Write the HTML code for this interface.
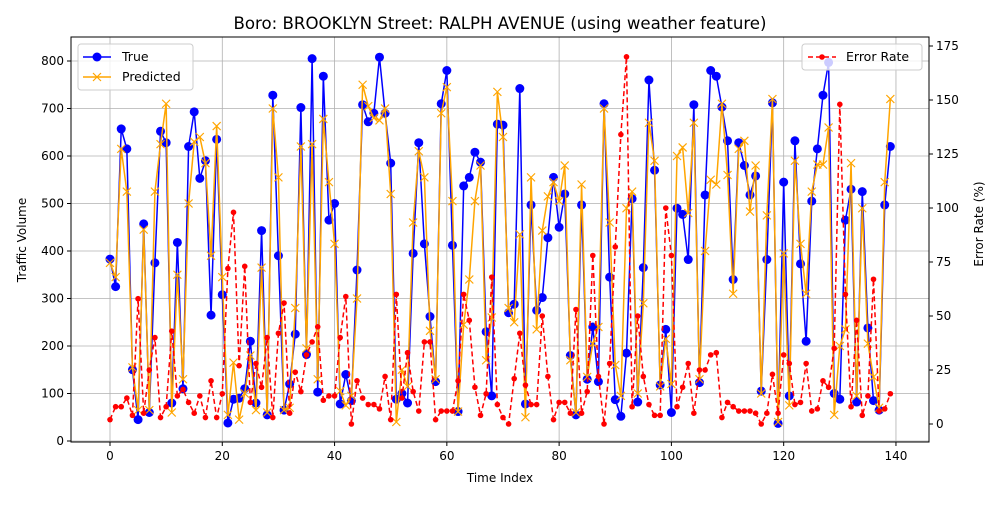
<!DOCTYPE html>
<html><head><meta charset="utf-8"><style>
body{margin:0;background:#fff;font-family:"Liberation Sans","DejaVu Sans",sans-serif}
svg text{font-family:"DejaVu Sans","Liberation Sans",sans-serif}
</style></head><body>
<svg id="chart" width="1000" height="500" xmlns="http://www.w3.org/2000/svg">
<text x="500" y="29" text-anchor="middle" font-size="16.6">Boro: BROOKLYN Street: RALPH AVENUE (using weather feature)</text>
<g id="grid"></g><g id="axes"></g><g id="marks"></g><g id="legend"></g>
</svg>
<script>
const idx = Array.from({length:140},(_,i)=>i);
const trueVals=[383,325,657,615,150,45,457,60,375,652,628,80,418,110,620,693,553,590,265,635,308,38,88,90,110,210,80,443,55,728,390,65,120,225,702,182,805,103,768,465,500,78,140,85,360,708,672,690,808,690,585,88,100,80,395,628,415,262,125,710,780,412,62,537,555,608,587,230,95,667,665,270,288,742,78,497,275,302,428,555,450,520,180,55,497,130,240,125,710,345,87,52,185,510,82,365,760,570,118,235,60,490,477,382,708,123,518,780,768,703,632,340,628,580,518,558,105,382,712,37,545,95,632,373,210,505,615,728,797,100,88,465,530,82,525,238,85,65,497,620];
const predVals=[375,345,615,525,155,65,445,65,525,625,710,60,350,130,500,630,640,585,390,663,345,55,165,45,100,180,65,365,60,700,555,65,70,280,620,195,625,130,678,545,415,105,75,95,300,750,705,680,675,700,520,40,150,115,460,610,555,232,130,690,745,505,62,245,340,505,580,170,260,735,640,280,250,435,50,555,235,443,515,545,505,580,170,60,540,135,205,240,700,460,160,95,490,525,100,290,670,590,115,215,120,600,618,480,670,130,400,550,540,710,560,310,615,632,483,580,100,475,720,40,395,75,590,415,310,525,582,582,660,55,200,235,585,95,490,205,135,70,545,720];
const errVals=[2,8,8,12,4,58,5,25,40,3,8,43,13,16,10,5,13,3,20,3,14,72,98,27,73,10,28,17,40,3,42,56,5,24,15,32,38,45,11,13,13,40,59,0,20,12,9,9,7,22,2,60,12,33,15,6,38,38,2,6,6,6,20,60,48,17,4,14,68,9,3,0,21,42,18,9,9,50,22,2,10,10,5,53,5,15,78,22,0,28,82,134,170,8,50,22,9,4,4,100,78,8,17,28,5,25,25,32,33,3,10,8,6,6,6,5,0,5,23,5,32,28,9,10,28,6,7,20,17,35,148,60,8,48,4,13,67,6,7,14];
const xTicks=[0,20,40,60,80,100,120,140];
const yTicks=[0,100,200,300,400,500,600,700,800];
const y2Ticks=[0,25,50,75,100,125,150,175];
const L=71,R=929,T=37,B=442;
const xs=v=>110+v*5.614;
const ys=v=>441-v*0.475;
const y2s=v=>424-v*2.16;
const NS='http://www.w3.org/2000/svg';
function mk(tag,attrs,parent){const e=document.createElementNS(NS,tag);for(const k in attrs)e.setAttribute(k,attrs[k]);parent.appendChild(e);return e;}
const grid=document.getElementById('grid'),axes=document.getElementById('axes'),marks=document.getElementById('marks'),leg=document.getElementById('legend');
xTicks.forEach(t=>{const x=xs(t);
 const g=mk('line',{x1:x,x2:x,y1:T,y2:B,stroke:'#b0b0b0','stroke-width':0.8},grid);
 
 
 mk('line',{x1:x,x2:x,y1:B,y2:B+4,stroke:'#000'},axes);
 const tx=mk('text',{x:x,y:B+18,'text-anchor':'middle','font-size':12},axes);tx.textContent=t;
 
 
});
yTicks.forEach(t=>{const y=ys(t);
 const g=mk('line',{x1:L,x2:R,y1:y,y2:y,stroke:'#b0b0b0','stroke-width':0.8},grid);
 
 
 mk('line',{x1:L-4,x2:L,y1:y,y2:y,stroke:'#000'},axes);
 const tx=mk('text',{x:L-7,y:y+4,'text-anchor':'end','font-size':12},axes);tx.textContent=t;
 
 
});
y2Ticks.forEach(t=>{const y=y2s(t);
 mk('line',{x1:R,x2:R+4,y1:y,y2:y,stroke:'#000'},axes);
 const tx=mk('text',{x:R+7,y:y+4,'text-anchor':'start','font-size':12},axes);tx.textContent=t;
 
 
});
const fr=mk('rect',{x:L,y:T,width:R-L,height:B-T,fill:'none',stroke:'#000','stroke-width':1},axes);


let t1=mk('text',{x:500,y:482,'text-anchor':'middle','font-size':12},axes);t1.textContent='Time Index';


let t2=mk('text',{x:26,y:240,'text-anchor':'middle','font-size':12,transform:'rotate(-90 26 240)'},axes);t2.textContent='Traffic Volume';


let t3=mk('text',{x:983,y:224,'text-anchor':'middle','font-size':12,transform:'rotate(-90 983 224)'},axes);t3.textContent='Error Rate (%)';


let p=mk('polyline',{points:idx.map(i=>xs(i)+','+ys(trueVals[i])).join(' '),fill:'none',stroke:'#0000ff','stroke-width':1.5},marks);


idx.forEach(i=>{const c=mk('circle',{cx:xs(i),cy:ys(trueVals[i]),r:4.5,fill:'#0000ff'},marks);
 
 });
p=mk('polyline',{points:idx.map(i=>xs(i)+','+ys(predVals[i])).join(' '),fill:'none',stroke:'#ffa500','stroke-width':1.5},marks);


idx.forEach(i=>{const x=xs(i),y=ys(predVals[i]);
 const m=mk('path',{d:`M${x-4} ${y-4}L${x+4} ${y+4}M${x-4} ${y+4}L${x+4} ${y-4}`,stroke:'#ffa500','stroke-width':1.2},marks);
 
 });
p=mk('polyline',{points:idx.map(i=>xs(i)+','+y2s(errVals[i])).join(' '),fill:'none',stroke:'#ff0000','stroke-width':1.5,'stroke-dasharray':'5,3'},marks);


idx.forEach(i=>{const c=mk('circle',{cx:xs(i),cy:y2s(errVals[i]),r:2.8,fill:'#ff0000'},marks);
 
 });
let lb=mk('rect',{x:78,y:44,width:115,height:46,rx:3,fill:'#fff','fill-opacity':0.8,stroke:'#ccc'},leg);


mk('line',{x1:83,x2:111,y1:57,y2:57,stroke:'#0000ff','stroke-width':1.5},leg);
mk('circle',{cx:97,cy:57,r:4.5,fill:'#0000ff'},leg);
let lt=mk('text',{x:122,y:61,'font-size':12.5},leg);lt.textContent='True';


mk('line',{x1:83,x2:111,y1:77,y2:77,stroke:'#ffa500','stroke-width':1.5},leg);
mk('path',{d:'M93 73L101 81M93 81L101 73',stroke:'#ffa500','stroke-width':1.2},leg);
lt=mk('text',{x:122,y:81,'font-size':12.5},leg);lt.textContent='Predicted';


lb=mk('rect',{x:802,y:44,width:120,height:26,rx:3,fill:'#fff','fill-opacity':0.8,stroke:'#ccc'},leg);


mk('line',{x1:808,x2:836,y1:57,y2:57,stroke:'#ff0000','stroke-width':1.5,'stroke-dasharray':'5,3'},leg);
mk('circle',{cx:822,cy:57,r:2.8,fill:'#ff0000'},leg);
lt=mk('text',{x:846,y:61,'font-size':12.5},leg);lt.textContent='Error Rate';


</script>
</body></html>
